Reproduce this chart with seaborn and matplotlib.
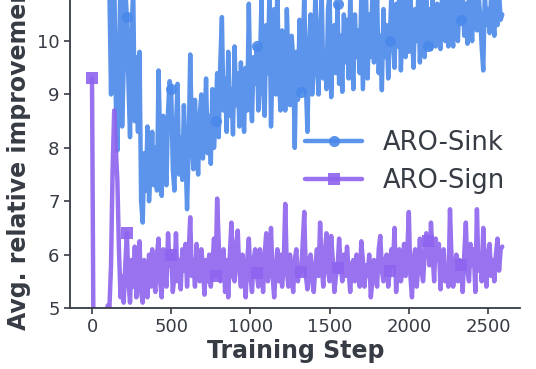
import matplotlib
matplotlib.use("Agg")
import matplotlib.pyplot as plt
import seaborn as sns
import pandas as pd

# Training steps (logged every 10 steps)
steps = list(range(0, 2600, 10))

sink_vals = [
    14.0, 13.6, 13.3, 13.0, 12.7, 12.4, 12.1, 11.9, 11.7, 11.5,
    11.3, 10.9, 9.0, 10.6, 11.4, 8.9, 7.95, 9.6, 11.2, 8.4,
    9.5, 11.0, 10.45, 9.2, 8.2, 10.2, 11.0, 8.5, 9.7, 8.3,
    9.8, 7.0, 6.6, 7.9, 7.2, 8.4, 7.0, 7.6, 8.3, 7.3,
    8.0, 7.2, 9.45, 8.1, 7.1, 8.6, 7.8, 7.3, 8.7, 9.25,
    9.1, 7.6, 7.2, 8.4, 9.2, 7.5, 8.2, 7.4, 8.8, 7.9,
    6.85, 8.0, 9.75, 8.3, 7.6, 8.9, 8.1, 7.5, 8.6, 9.0,
    7.8, 8.3, 9.3, 7.9, 8.6, 7.7, 9.1, 8.0, 8.5, 9.4,
    8.2, 9.6, 10.45, 8.7, 9.3, 8.3, 9.8, 8.6, 9.1, 8.25,
    9.9, 8.8, 9.4, 8.4, 9.6, 8.9, 8.3, 9.5, 8.7, 10.7,
    9.0, 8.5, 9.7, 9.2, 9.9, 8.7, 9.5, 10.8, 9.1, 8.6,
    10.3, 9.4, 10.9, 8.4, 9.6, 10.6, 9.0, 11.0, 9.3, 8.7,
    10.2, 9.4, 8.7, 10.6, 9.5, 8.8, 10.1, 9.7, 8.0, 9.8,
    8.9, 10.4, 9.05, 9.6, 10.9, 9.2, 8.3, 9.9, 10.5, 9.0,
    9.5, 10.9, 9.7, 9.0, 10.2, 10.9, 9.3, 9.8, 9.1, 10.6,
    10.9, 8.95, 9.9, 10.3, 9.4, 10.7, 9.2, 10.1, 9.05, 10.5,
    9.6, 10.4, 9.3, 10.8, 9.8, 9.1, 10.5, 9.7, 10.2, 9.4,
    10.8, 9.1, 10.0, 10.9, 9.3, 10.5, 9.7, 10.9, 9.6, 10.3,
    10.8, 9.4, 10.1, 9.08, 10.6, 9.7, 10.3, 9.3, 10.0, 10.9,
    10.2, 9.5, 10.7, 9.9, 10.9, 9.45, 10.3, 10.9, 9.7, 10.8,
    9.8, 10.9, 10.1, 9.5, 10.6, 10.0, 10.9, 9.6, 10.4, 10.8,
    9.7, 10.9, 9.9, 10.6, 9.85, 10.9, 10.2, 9.9, 10.7, 10.1,
    9.85, 10.9, 10.3, 10.0, 10.8, 9.9, 10.9, 10.2, 9.9, 10.9,
    10.4, 10.0, 10.8, 10.4, 10.9, 10.1, 10.7, 9.95, 10.9, 10.3,
    10.0, 10.9, 10.4, 10.2, 10.9, 10.5, 9.9, 9.45, 10.9, 10.3,
    10.6, 10.15, 10.9, 10.4, 10.1, 10.8, 10.3, 10.9, 10.4, 10.5,
]

sign_vals = [
    9.3, 4.0, 3.5, 3.3, 3.2, 3.1, 3.0, 3.2, 3.4, 4.9,
    5.05, 5.0, 5.8, 7.6, 8.7, 8.0, 7.4, 6.1, 5.2, 5.6,
    5.1, 5.8, 6.4, 5.5, 5.1, 5.9, 5.4, 6.15, 5.2, 5.7,
    6.25, 5.3, 5.1, 5.9, 5.6, 5.2, 6.0, 5.4, 6.1, 5.5,
    5.3, 6.0, 6.3, 5.5, 5.2, 6.1, 5.7, 5.4, 6.4, 5.8,
    6.0, 5.3, 5.6, 6.4, 5.5, 5.9, 5.35, 6.1, 5.7, 6.2,
    5.4, 6.0, 6.7, 5.6, 5.9, 5.4, 6.2, 5.7, 5.5, 6.1,
    5.8, 5.25, 5.9, 5.5, 6.0, 5.4, 5.8, 6.3, 5.6, 7.05,
    6.2, 5.5, 5.8, 6.1, 5.3, 5.9, 5.2, 6.0, 6.6, 5.6,
    5.5, 6.2, 6.45, 5.7, 5.4, 6.0, 5.6, 5.2, 5.9, 6.3,
    5.6, 5.3, 5.9, 6.1, 5.65, 5.4, 6.1, 5.8, 5.3, 6.0,
    6.4, 5.5, 5.8, 6.5, 5.6, 5.2, 5.7, 6.1, 5.5, 6.0,
    5.4, 5.8, 6.95, 5.7, 5.4, 6.0, 5.6, 5.3, 5.9, 6.1,
    5.5, 5.8, 5.67, 6.2, 6.8, 5.6, 5.35, 5.9, 6.0, 5.5,
    5.3, 5.8, 6.1, 5.6, 6.6, 5.8, 5.4, 6.0, 6.4, 5.7,
    5.5, 6.35, 5.9, 5.3, 5.6, 5.75, 6.3, 5.8, 5.5, 6.0,
    5.6, 6.15, 5.7, 5.3, 5.8, 5.9, 5.5, 6.0, 5.7, 5.4,
    6.25, 5.9, 5.4, 5.8, 5.6, 6.0, 5.2, 5.5, 5.9, 5.6,
    5.4, 6.1, 6.35, 5.7, 5.5, 5.9, 6.0, 5.4, 5.7, 6.1,
    5.8, 6.5, 5.3, 5.9, 6.1, 5.5, 5.7, 6.2, 5.6, 6.0,
    6.8, 5.6, 5.2, 5.9, 6.1, 5.4, 5.8, 6.3, 5.7, 5.5,
    6.0, 6.4, 6.25, 5.8, 6.6, 6.0, 5.5, 6.3, 5.9, 6.2,
    5.35, 5.9, 6.1, 5.5, 5.8, 5.4, 6.85, 5.9, 5.4, 5.7,
    6.0, 5.5, 5.9, 5.8, 5.3, 6.0, 6.6, 5.7, 5.5, 6.2,
    5.8, 6.1, 5.3, 6.85, 5.7, 6.0, 5.5, 6.5, 5.8, 5.4,
    6.0, 6.2, 5.6, 5.9, 5.5, 6.0, 6.3, 5.7, 6.1, 6.15,
]

marker_idx = [0, 22, 50, 78, 104, 132, 155, 188, 212, 233]

series_names = ["ARO-Sink", "ARO-Sign"]
colors = ["#4a89ea", "#8e63ee"]
marker_styles = ["o", "s"]
x_ticks = [0, 500, 1000, 1500, 2000, 2500]
y_ticks = [5, 6, 7, 8, 9, 10]

df_sink = pd.DataFrame({"step": steps, "value": sink_vals})
df_sign = pd.DataFrame({"step": steps, "value": sign_vals})

sns.set_style("ticks")
plt.rcParams["font.family"] = ["DejaVu Sans"]

W, H = 536, 369
fig = plt.figure(figsize=(W / 100, H / 100), dpi=100)
ax = fig.add_axes([70 / W, 1 - 308 / H, (520 - 70) / W, 308 / H])

text_col = "#363b44"
for df, name, col, mk in zip([df_sink, df_sign], series_names, colors, marker_styles):
    sns.lineplot(data=df, x="step", y="value", ax=ax, color=col, label=name,
                 linewidth=3.2, marker=mk, markersize=8, markevery=marker_idx,
                 markeredgewidth=0, alpha=0.9, estimator=None, sort=False)

ax.set_xlim(-139, 2702)
ax.set_ylim(5, 10.77)
ax.set_xticks(x_ticks)
ax.set_yticks(y_ticks)
ax.tick_params(axis="both", labelsize=13, colors=text_col, length=4, width=1.2)
for s in ["top", "right"]:
    ax.spines[s].set_visible(False)
for s in ["left", "bottom"]:
    ax.spines[s].set_color(text_col)
    ax.spines[s].set_linewidth(1.3)

ax.set_xlabel("Training Step", fontsize=17, fontweight="bold", color=text_col)
ax.set_ylabel("Avg. relative improvement (%)", fontsize=17, fontweight="bold", color=text_col)
ax.yaxis.label.set_horizontalalignment("left")
ax.yaxis.set_label_coords(31 / W, 1 - 330 / H, transform=fig.transFigure)
ax.xaxis.set_label_coords(296 / W, 1 - 339 / H, transform=fig.transFigure)

leg = ax.legend(loc="center", bbox_to_anchor=(405 / W, 1 - 162 / H),
                bbox_transform=fig.transFigure, frameon=False, fontsize=18.5,
                handlelength=2.2, handletextpad=0.8, labelspacing=0.45)
for t in leg.get_texts():
    t.set_color(text_col)

fig.savefig("out.png", dpi=100)
